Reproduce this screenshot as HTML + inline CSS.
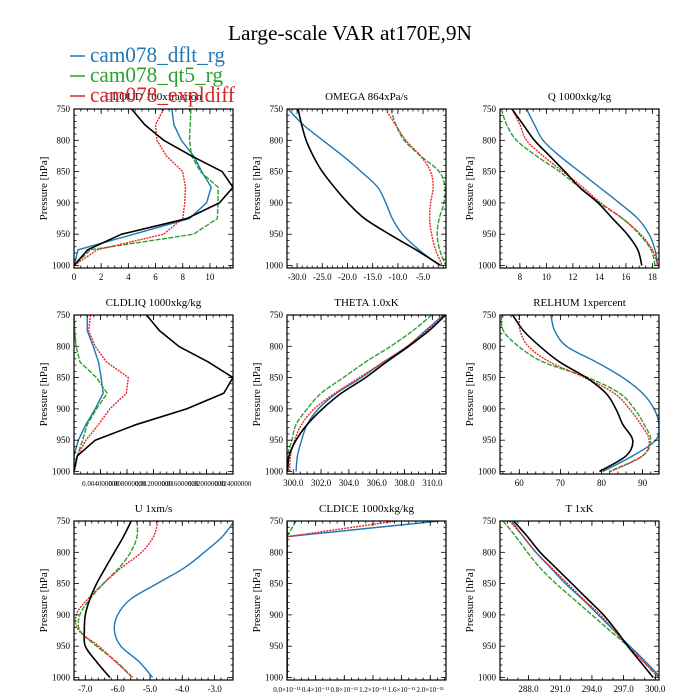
<!DOCTYPE html>
<html><head><meta charset="utf-8">
<style>
html,body{margin:0;padding:0;background:#fff;}
svg{display:block;font-family:"Liberation Serif",serif;}
</style></head>
<body>
<svg id="chart" width="700" height="700" viewBox="0 0 700 700" xmlns="http://www.w3.org/2000/svg">
<rect width="700" height="700" fill="#fff"/>
<text x="350" y="40" text-anchor="middle" font-size="21" textLength="244" lengthAdjust="spacingAndGlyphs">Large-scale VAR at170E,9N</text>
<g id="panels"></g>
<g>
  <line x1="70" y1="56" x2="85" y2="56" stroke="#1f77b4" stroke-width="1.5"/>
  <text x="90" y="62" font-size="22" fill="#1f77b4" textLength="135" lengthAdjust="spacingAndGlyphs">cam078_dflt_rg</text>
  <line x1="70" y1="76" x2="85" y2="76" stroke="#2ca02c" stroke-width="1.5"/>
  <text x="90" y="82" font-size="22" fill="#2ca02c" textLength="133" lengthAdjust="spacingAndGlyphs">cam078_qt5_rg</text>
  <line x1="70" y1="96" x2="85" y2="96" stroke="#d62728" stroke-width="1.5"/>
  <text x="90" y="102" font-size="22" fill="#d62728" textLength="145" lengthAdjust="spacingAndGlyphs">cam078_expldiff</text>
</g>
</svg>
<script>
const pLevels = [750,775,800,825,850,875,900,925,950,975,1000];
const yTicks = [750,800,850,900,950,1000];

const cloudBlack = [4.24,5.2,6.6,8.65,10.9,11.7,10.7,8.3,3.5,1.0,0];
const cloudBlue  = [7.2,7.35,7.9,8.8,9.4,10.1,9.75,8.5,4.4,0.3,0];
const cloudGreen = [8.6,8.55,8.5,8.65,9.3,10.6,10.6,10.55,8.8,1.2,0];
const cloudRed   = [6.6,6.0,6.1,6.8,8.0,8.2,8.15,8.0,6.6,1.7,0];

const omegaBlack = [-29.8,-29.1,-28.2,-26.8,-25,-22.6,-19.9,-16.6,-11.7,-6.4,-1.5];
const omegaBlue  = [-31.8,-28.8,-24.9,-20.9,-17.3,-14,-12.4,-11.1,-9.1,-5.8,-1.7];
const omegaGreen = [-11.4,-10.4,-8.75,-5.5,-1.8,-0.66,-0.85,-1.8,-2.2,-1.7,-0.5];
const omegaRed   = [-12.5,-10.5,-8.4,-5.5,-3.5,-3.0,-3.5,-3.7,-3.3,-2.5,-1.2];

const qBlack = [7.4,8.25,9.1,10.25,11.4,12.5,13.9,15,16.1,16.9,17.2];
const qBlue  = [8.5,9.1,9.75,11,12.5,14,15.5,16.9,17.75,18.2,18.4];
const qGreen = [6.6,7,7.75,9.25,11,12.5,14,15.75,17,17.9,18.2];
const qRed   = [7.4,8,8.5,9.75,11.25,12.75,14.1,15.75,17.1,18,18.4];

const liqBlack = [10.95,12.9,15.8,20.25,24,22.6,17,9.4,3.2,0.5,0];
const liqBlue  = [2.0,2.0,2.9,3.7,4.1,4.4,3.2,1.8,0.65,0,0];
const liqGreen = [0,0.1,0.3,0.9,3.4,5.0,3.4,2.0,1.3,0.5,0];
const liqRed   = [2.5,2.2,3.2,4.9,8.2,7.9,5.4,3.7,1.8,0.5,0];

const thetaBlack = [310.95,309.76,308.3,306.7,305.2,303.45,302.1,301,300.2,299.7,299.6];
const thetaBlue  = [310.8,309.5,308.2,306.5,304.9,303.1,301.8,301,300.6,300.3,300.2];
const thetaGreen = [309.95,308.6,307,305.2,303.6,302,301,300.2,299.9,299.6,299.6];
const thetaRed   = [310.9,309.6,308.2,306.5,304.75,303,301.5,300.6,300.1,299.8,299.75];

const rhBlack = [58.4,61,65,69.8,76.3,81.1,83.5,85.2,87.6,86,79.5];
const rhBlue  = [67.7,68.6,71.5,78.7,85.2,90,92.8,94,93.2,87.6,80.3];
const rhGreen = [55.7,56.1,59.8,65.8,76.7,84.4,88,90.4,92,90,81.9];
const rhRed   = [60,60.2,62.2,67.4,75.9,83.1,86.8,89.6,91.6,90,82.2];

const uBlack = [-5.58,-5.82,-6.1,-6.38,-6.65,-6.86,-7,-7.03,-7,-6.65,-6.24];
const uBlue  = [-2.39,-2.76,-3.32,-3.94,-4.78,-5.6,-6,-6.1,-5.9,-5.33,-4.92];
const uGreen = [-5.4,-5.4,-5.6,-5.96,-6.44,-6.86,-7.17,-7.17,-6.65,-6.03,-5.54];
const uRed   = [-4.75,-4.89,-5.26,-5.89,-6.44,-6.93,-7.28,-7.2,-6.58,-6.06,-5.54];

const iceBlack = [0,0,0,0,0,0,0,0,0,0,0];
const iceBlue  = [2.125,0,0,0,0,0,0,0,0,0,0];
const iceGreen = [0.125,0,0,0,0,0,0,0,0,0,0];
const iceRed   = [1.53,0,0,0,0,0,0,0,0,0,0];

const tBlack = [286.6,287.9,289.1,290.6,292.1,293.6,295.1,296.3,297.4,298.6,299.8];
const tBlue  = [286.4,287.5,288.7,290.1,291.5,293.1,294.6,296.1,297.6,299.1,300.5];
const tGreen = [285.6,286.8,287.9,289.1,290.6,292.3,294,295.7,297.4,298.9,300.3];
const tRed   = [286.2,287.5,288.7,290.2,291.7,293.2,294.8,296.1,297.4,298.9,300.3];

const cloudTicks = [0,2,4,6,8,10];
const omegaTicks = [-30,-25,-20,-15,-10,-5];
const qTicks = [8,10,12,14,16,18];
const liqTicks = [4,8,12,16,20,24];
const thetaTicks = [300,302,304,306,308,310];
const rhTicks = [60,70,80,90];
const uTicks = [-7,-6,-5,-4,-3];
const iceTicks = [0,0.4,0.8,1.2,1.6,2.0];
const tTicks = [288,291,294,297,300];

const NS = "http://www.w3.org/2000/svg";
const root = document.getElementById('panels');
function mk(tag, attrs, parent){
  const e = document.createElementNS(NS, tag);
  for (const k in attrs) e.setAttribute(k, attrs[k]);
  (parent||root).appendChild(e);
  return e;
}
function pathFrom(pts, smooth){
  let d = 'M' + pts[0][0].toFixed(2) + ',' + pts[0][1].toFixed(2);
  for (let i = 1; i < pts.length; i++) {
    if (!smooth) { d += 'L' + pts[i][0].toFixed(2) + ',' + pts[i][1].toFixed(2); continue; }
    const p0 = pts[Math.max(0,i-2)], p1 = pts[i-1], p2 = pts[i], p3 = pts[Math.min(pts.length-1,i+1)];
    const c1x = p1[0] + (p2[0]-p0[0])/6, c1y = p1[1] + (p2[1]-p0[1])/6;
    const c2x = p2[0] - (p3[0]-p1[0])/6, c2y = p2[1] - (p3[1]-p1[1])/6;
    d += 'C' + [c1x,c1y,c2x,c2y,p2[0],p2[1]].map(v=>v.toFixed(2)).join(',');
  }
  return d;
}
const colors = {black:'#000', blue:'#1f77b4', green:'#2ca02c', red:'#e8262a'};
const dashes = {black:'', blue:'', green:'5,1.5', red:'2,1'};

const panels = [
  {key:'cloud', title:'CLOUD  100xfraction', col:0,row:0, xmin:0,xmax:11.7, ticks:cloudTicks, minor:0.5, fmt:v=>String(v), smooth:false, s:[cloudBlue,cloudGreen,cloudRed,cloudBlack]},
  {key:'omega', title:'OMEGA  864xPa/s', col:1,row:0, xmin:-32,xmax:-0.45, ticks:omegaTicks, minor:1, fmt:v=>v.toFixed(1), smooth:true, s:[omegaBlue,omegaGreen,omegaRed,omegaBlack]},
  {key:'q', title:'Q  1000xkg/kg', col:2,row:0, xmin:6.5,xmax:18.5, ticks:qTicks, minor:0.5, fmt:v=>String(v), smooth:true, s:[qBlue,qGreen,qRed,qBlack]},
  {key:'cldliq', title:'CLDLIQ  1000xkg/kg', col:0,row:1, xmin:0,xmax:24, ticks:liqTicks, minor:1, fmt:v=>(v/1000).toFixed(3)+'000000', small:true, smooth:false, s:[liqBlue,liqGreen,liqRed,liqBlack]},
  {key:'theta', title:'THETA  1.0xK', col:1,row:1, xmin:299.55,xmax:310.98, ticks:thetaTicks, minor:0.5, fmt:v=>v.toFixed(1), smooth:true, s:[thetaBlue,thetaGreen,thetaRed,thetaBlack]},
  {key:'relhum', title:'RELHUM  1xpercent', col:2,row:1, xmin:55.3,xmax:94, ticks:rhTicks, minor:2, fmt:v=>String(v), smooth:true, s:[rhBlue,rhGreen,rhRed,rhBlack]},
  {key:'u', title:'U  1xm/s', col:0,row:2, xmin:-7.35,xmax:-2.43, ticks:uTicks, minor:0.2, fmt:v=>v.toFixed(1), smooth:true, s:[uBlue,uGreen,uRed,uBlack]},
  {key:'cldice', title:'CLDICE  1000xkg/kg', col:1,row:2, xmin:0,xmax:2.22, ticks:iceTicks, minor:0.1, fmt:v=>v.toFixed(1)+'\u00d710\u207b\u00b9\u00b9', small:true, smooth:false, s:[iceBlue,iceGreen,iceRed,iceBlack]},
  {key:'t', title:'T  1xK', col:2,row:2, xmin:285.3,xmax:300.35, ticks:tTicks, minor:1, fmt:v=>v.toFixed(1), smooth:true, s:[tBlue,tGreen,tRed,tBlack]},
];
const names = ['blue','green','red','black'];
const W = 159, H = 159, PMIN = 750, PMAX = 1004;

panels.forEach(p => {
  const x0 = 74 + p.col*213, y0 = 109 + p.row*206;
  const g = mk('g', {});
  
  
  const xs = v => x0 + (v - p.xmin)/(p.xmax - p.xmin)*W;
  const ys = v => y0 + (v - PMIN)/(PMAX - PMIN)*H;

  const t = mk('text', {x: x0+W/2, y: y0-9, 'text-anchor':'middle', 'font-size':11}, g);
  t.textContent = p.title;
  
  

  const yl = mk('text', {transform:`translate(${x0-27},${y0+H/2}) rotate(-90)`, 'text-anchor':'middle', 'font-size':11}, g);
  yl.textContent = 'Pressure [hPa]';
  
  

  const clip = 'clip-' + p.key;
  const cp = mk('clipPath', {id: clip}, g);
  mk('rect', {x:x0, y:y0, width:W, height:H}, cp);
  p.s.forEach((arr, i) => {
    const pts = arr.map((v, j) => [xs(v), ys(pLevels[j])]);
    const nm = names[i];
    const pl = mk('path', {d: pathFrom(pts, p.smooth), fill:'none', stroke: colors[nm], 'stroke-width': nm==='black'?1.6:1.4, 'stroke-dasharray': dashes[nm], 'clip-path':`url(#${clip})`, 'stroke-linejoin':'round'}, g);
    
    
  });

  mk('rect', {x:x0, y:y0, width:W, height:H, fill:'none', stroke:'#000', 'stroke-width':1.2}, g);

  for (let v = 750; v <= 1000; v += 10) {
    const y = ys(v), len = (v % 50 === 0) ? 5 : 2.5;
    mk('line', {x1:x0, y1:y, x2:x0+len, y2:y, stroke:'#000', 'stroke-width':0.8}, g);
    mk('line', {x1:x0+W, y1:y, x2:x0+W-len, y2:y, stroke:'#000', 'stroke-width':0.8}, g);
  }
  yTicks.forEach(v => {
    const tl = mk('text', {x:x0-4, y:ys(v)+3, 'text-anchor':'end', 'font-size':9}, g);
    tl.textContent = String(v);
    
    
  });

  const start = Math.ceil(p.xmin/p.minor - 1e-9);
  for (let k = start; k*p.minor <= p.xmax + 1e-9; k++) {
    const x = xs(k*p.minor);
    mk('line', {x1:x, y1:y0+H, x2:x, y2:y0+H-2.5, stroke:'#000', 'stroke-width':0.8}, g);
    mk('line', {x1:x, y1:y0, x2:x, y2:y0+2.5, stroke:'#000', 'stroke-width':0.8}, g);
  }
  const majors = p.key === 'cldliq' ? [0].concat(p.ticks) : p.ticks;
  majors.forEach(v => {
    const x = xs(v);
    mk('line', {x1:x, y1:y0+H, x2:x, y2:y0+H-5, stroke:'#000', 'stroke-width':0.8}, g);
    mk('line', {x1:x, y1:y0, x2:x, y2:y0+5, stroke:'#000', 'stroke-width':0.8}, g);
  });
  p.ticks.forEach(v => {
    const tl = mk('text', {x:xs(v), y:y0+H+12, 'text-anchor':'middle', 'font-size': p.small ? 7 : 9}, g);
    tl.textContent = p.fmt(v);
    
    
  });
});
</script>
</body></html>
